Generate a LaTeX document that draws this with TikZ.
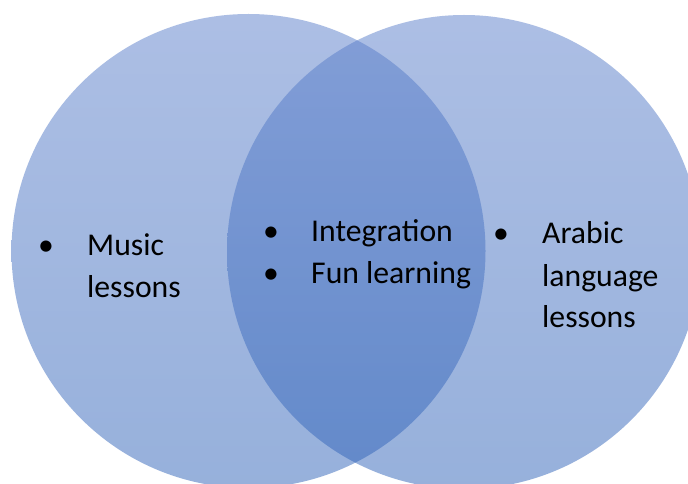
\documentclass[tikz,border=0pt]{standalone}
\usepackage{fontspec}
\setmainfont{Carlito}
\definecolor{topblue}{RGB}{91,127,203}
\definecolor{botblue}{RGB}{47,99,185}
\begin{document}
\begin{tikzpicture}[x=1pt,y=-1pt,
  setcircle/.style={top color=topblue,bottom color=botblue,fill opacity=0.5,draw=none},
  txt/.style={anchor=base west,inner sep=0pt,font=\fontsize{31.7}{42}\selectfont,text=black},
  bul/.style={anchor=base,inner sep=0pt,font=\fontsize{31.7}{42}\selectfont,text=black}]
\useasboundingbox (0,0) rectangle (688,484);
\clip (0,0) rectangle (688,484);
\fill[white] (0,0) rectangle (688,484);
\path[setcircle] (248.5,251) circle[radius=237pt];
\path[setcircle] (464,252) circle[radius=237pt];
% left set
\node[bul] (bl) at (46,255) {•};
\node[txt] (l1) at (87,255) {Music};
\node[txt] (l2) at (87,297) {lessons};
% intersection
\node[bul] (bm1) at (271,241) {•};
\node[txt] (m1) at (311,241) {Integration};
\node[bul] (bm2) at (271,283) {•};
\node[txt] (m2) at (311,283) {Fun learning};
% right set
\node[bul] (br) at (501,243) {•};
\node[txt] (r1) at (542,243) {Arabic};
\node[txt] (r2) at (542,286) {language};
\node[txt] (r3) at (542,327) {lessons};
\end{tikzpicture}
\end{document}
